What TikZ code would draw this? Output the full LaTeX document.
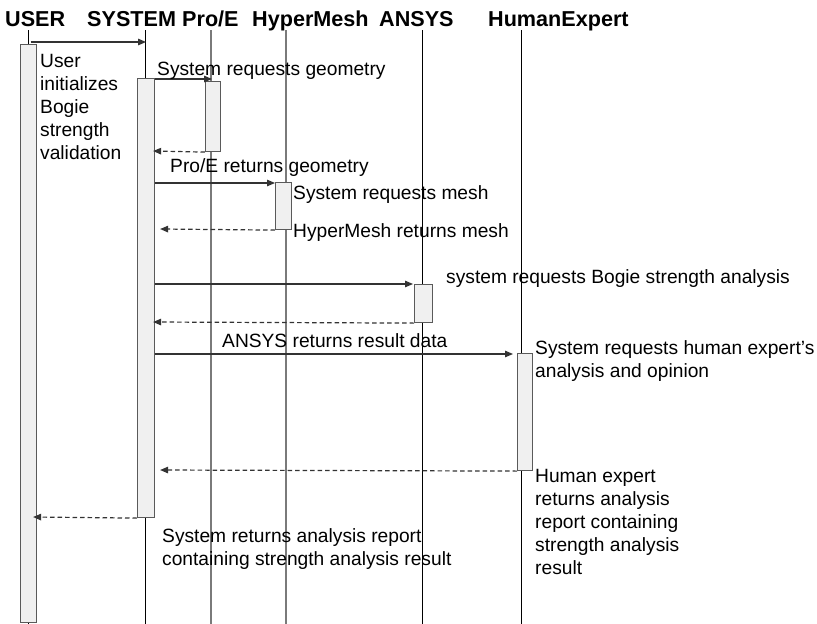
\documentclass[tikz,border=0pt]{standalone}
\usepackage{fontspec}
\setmainfont{Liberation Sans}
\usetikzlibrary{arrows.meta}
\definecolor{boxf}{HTML}{F0F0F0}
\definecolor{boxc}{HTML}{5A5A5A}
\definecolor{arrc}{HTML}{333333}
\definecolor{lgray}{HTML}{7A7A7A}
\begin{document}
\begin{tikzpicture}[x=1pt,y=-1pt,
 hdr/.style={font=\bfseries\fontsize{21.6}{26}\selectfont, anchor=base west, inner sep=0pt},
 lbl/.style={font=\fontsize{19.2}{23}\selectfont, anchor=base west, inner sep=0pt, align=left},
 life/.style={line width=1pt, black},
 lifeg/.style={line width=1.6pt, lgray},
 actbox/.style={draw=boxc, fill=boxf, line width=1.1pt, inner sep=0pt, anchor=north west},
 msg/.style={draw=arrc, line width=1.2pt, -{Triangle[length=8pt,width=6.5pt]}},
 ret/.style={msg, dash pattern=on 4.5pt off 3pt}]
\useasboundingbox (0,0) rectangle (817,624);
\fill[white] (0,0) rectangle (817,624);
% headers
\node[hdr] (huser) at (5,26) {USER};
\node[hdr] (hsys) at (87,26) {SYSTEM};
\node[hdr] (hpro) at (182,26) {Pro/E};
\node[hdr] (hhyp) at (252,26) {HyperMesh};
\node[hdr] (hans) at (379,26) {ANSYS};
\node[hdr] (hhum) at (488,26) {HumanExpert};
% lifelines
\coordinate (uT) at (28,30);  \coordinate (uB) at (28,624);
\coordinate (sT) at (145,30); \coordinate (sB) at (145,624);
\coordinate (pT) at (211,30); \coordinate (pB) at (211,624);
\coordinate (yT) at (286,30); \coordinate (yB) at (286,624);
\coordinate (aT) at (422,30); \coordinate (aB) at (422,624);
\coordinate (eT) at (521,30); \coordinate (eB) at (521,624);
\draw[life] (uT) -- (uB);
\draw[life] (sT) -- (sB);
\draw[lifeg] (pT) -- (pB);
\draw[lifeg] (yT) -- (yB);
\draw[life] (aT) -- (aB);
\draw[life] (eT) -- (eB);
% activation bars
\node[actbox, minimum width=16pt, minimum height=578pt] (ubar) at (20,44) {};
\node[actbox, minimum width=17pt, minimum height=439pt] (sbar) at (137,78) {};
\node[actbox, minimum width=15pt, minimum height=70pt] (pbar) at (205,81) {};
\node[actbox, minimum width=16pt, minimum height=47pt] (hbar) at (275,182) {};
\node[actbox, minimum width=18pt, minimum height=38pt] (abar) at (414,284) {};
\node[actbox, minimum width=15pt, minimum height=117pt] (ebar) at (517,353) {};
% messages
\draw[msg] ([xshift=2pt]ubar.north |- 0,42) -- (sbar.north |- 0,42);
\draw[msg] (sbar.east |- 0,79) -- ([xshift=-1pt]pbar.north |- 0,79);
\draw[ret] (pbar.south west) -- ([xshift=-2pt]sbar.east |- 0,151);
\draw[msg] (sbar.east |- 0,183) -- (hbar.west |- 0,183);
\draw[ret] (hbar.south west) -- ([xshift=5pt]sbar.east |- 0,229);
\draw[msg] (sbar.east |- 0,284) -- ([xshift=-1pt]abar.north west);
\draw[ret] (abar.south west) -- ([xshift=-2pt]sbar.east |- 0,322);
\draw[msg] (sbar.east |- 0,354) -- ([xshift=-4pt]ebar.west |- 0,354);
\draw[ret] (ebar.south west) -- ([xshift=5pt]sbar.east |- 0,470);
\draw[ret] (sbar.south west) -- ([xshift=-4pt]ubar.east |- 0,517);
% labels (base anchor = baseline of last line)
\node[lbl] (l10) at (40,159) {User\\initializes\\Bogie\\strength\\validation};
\node[lbl] (l1) at (157,75) {System requests geometry};
\node[lbl] (l2) at (170,172) {Pro/E returns geometry};
\node[lbl] (l3) at (293,199) {System requests mesh};
\node[lbl] (l4) at (293,237) {HyperMesh returns mesh};
\node[lbl] (l5) at (446,283) {system requests Bogie strength analysis};
\node[lbl] (l6) at (222,347) {ANSYS returns result data};
\node[lbl] (l7) at (535,377) {System requests human expert’s\\analysis and opinion};
\node[lbl] (l8) at (535,574) {Human expert\\returns analysis\\report containing\\strength analysis\\result};
\node[lbl] (l9) at (162,565) {System returns analysis report\\containing strength analysis result};
\end{tikzpicture}
\end{document}
